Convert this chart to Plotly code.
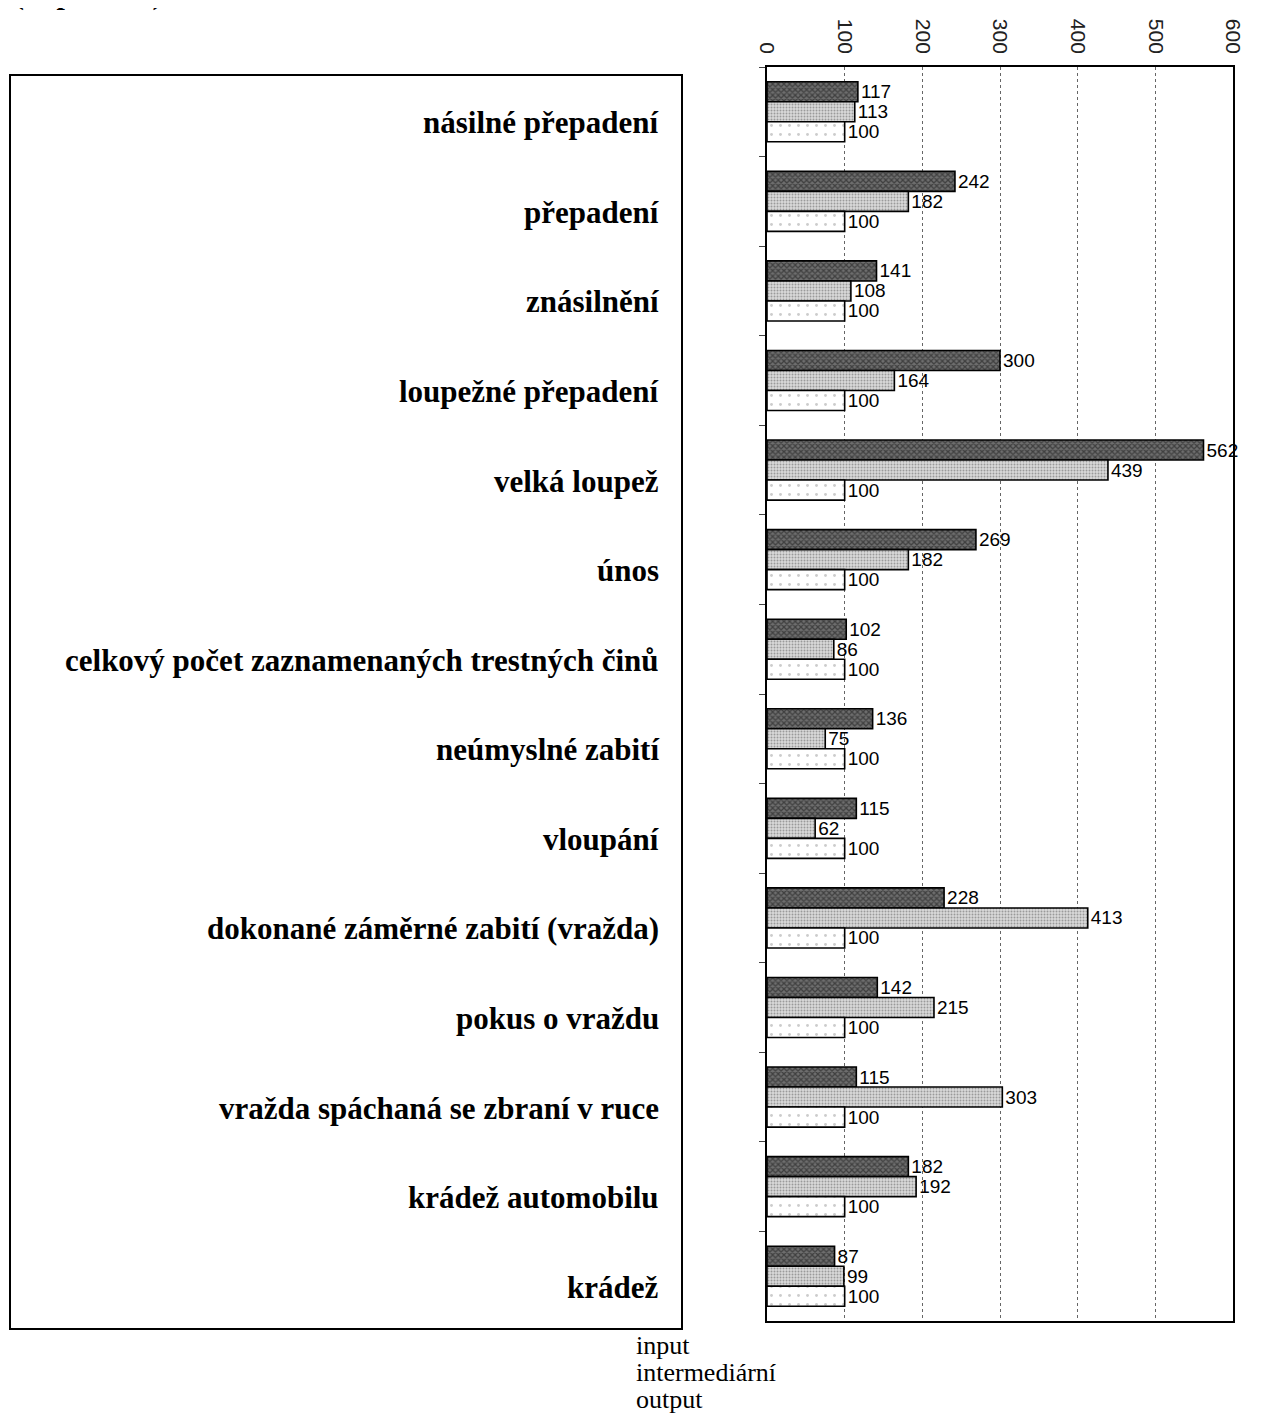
import plotly.graph_objects as go

categories = [
    "násilné přepadení",
    "přepadení",
    "znásilnění",
    "loupežné přepadení",
    "velká loupež",
    "únos",
    "celkový počet zaznamenaných trestných činů",
    "neúmyslné zabití",
    "vloupání",
    "dokonané záměrné zabití (vražda)",
    "pokus o vraždu",
    "vražda spáchaná se zbraní v ruce",
    "krádež automobilu",
    "krádež",
]
input_vals = [117, 242, 141, 300, 562, 269, 102, 136, 115, 228, 142, 115, 182, 87]
intermediate_vals = [113, 182, 108, 164, 439, 182, 86, 75, 62, 413, 215, 303, 192, 99]
output_vals = [100, 100, 100, 100, 100, 100, 100, 100, 100, 100, 100, 100, 100, 100]
series_names = ["input", "intermediární", "output"]
x_ticks = [0, 100, 200, 300, 400, 500, 600]

W, H = 1261, 1417
OFF = 8  # page body margin
# target page pixels: plot x 767..1233, y 67..1321
ML = 767 - OFF
MT = 67 - OFF
MR = OFF + W - 1233
MB = OFF + H - 1321
PW = W - ML - MR
PH = H - MT - MB

def px_x(p):
    return (p - OFF - ML) / PW

def px_y(p):
    return 1 - (p - OFF - MT) / PH

styles = [
    dict(pattern=dict(shape="x", fgcolor="#111111", bgcolor="#6e6e6e", size=4, solidity=0.55), color="#444"),
    dict(pattern=dict(shape=".", fgcolor="#5a5a5a", bgcolor="#dadada", size=3, solidity=0.35), color="#bbb"),
    dict(pattern=dict(shape=".", fgcolor="#9a9a9a", bgcolor="#ffffff", size=9, solidity=0.08), color="#fff"),
]

fig = go.Figure()
for name, vals, st in zip(series_names, [input_vals, intermediate_vals, output_vals], styles):
    fig.add_trace(go.Bar(
        name=name, y=categories, x=vals, orientation="h",
        marker=dict(color=st["color"], pattern=st["pattern"], line=dict(color="black", width=1.6)),
        text=[str(v) for v in vals], textposition="outside", constraintext="none",
        textfont=dict(family="Arial, Liberation Sans", size=19, color="black"),
        cliponaxis=False, showlegend=False,
    ))

fig.update_layout(
    width=W, height=H,
    margin=dict(l=ML, r=MR, t=MT, b=MB),
    paper_bgcolor="white", plot_bgcolor="white",
    barmode="group", bargap=0.33, bargroupgap=0,
    xaxis=dict(
        side="top", range=[0, 600], tickvals=x_ticks, ticktext=[str(t) for t in x_ticks],
        tickangle=90, tickfont=dict(family="Arial, Liberation Sans", size=21, color="#222"),
        showgrid=True, gridcolor="#666", griddash="dot", gridwidth=1,
        showline=True, linecolor="black", linewidth=1.5, mirror=True,
        zeroline=False, ticks="", ticklabelstandoff=4,
    ),
    yaxis=dict(
        autorange="reversed", showticklabels=False, showgrid=False,
        showline=True, linecolor="black", linewidth=2, mirror=True,
        ticks="outside", tickson="boundaries", ticklen=6, tickcolor="#444",
    ),
    font=dict(family="Liberation Serif, Times New Roman, serif", color="black"),
)

# label box on the left
fig.add_shape(type="rect", xref="paper", yref="paper",
              x0=px_x(10), x1=px_x(682), y0=px_y(1329), y1=px_y(75),
              line=dict(color="black", width=2), fillcolor="rgba(0,0,0,0)")

for c in categories:
    fig.add_annotation(x=px_x(661), xref="paper", y=c, yref="y", yshift=-11,
                       text="<b>" + c + "</b>", showarrow=False, xanchor="right", yanchor="middle",
                       font=dict(family="Liberation Serif, Times New Roman, serif", size=31, color="black"))

# legend text below the box
for i, name in enumerate(series_names):
    fig.add_annotation(x=px_x(634), xref="paper", y=px_y(1345 + 27 * i), yref="paper",
                       text=name, showarrow=False, xanchor="left", yanchor="middle",
                       font=dict(family="Liberation Serif, Times New Roman, serif", size=26, color="black"))

# clipped title at the very top
fig.add_annotation(x=px_x(12), xref="paper", y=px_y(13), yref="paper",
                   text="<b>(in percent)</b>", showarrow=False, xanchor="left", yanchor="bottom",
                   font=dict(family="Liberation Serif, Times New Roman, serif", size=30, color="black"))

fig.write_html("out.html")
